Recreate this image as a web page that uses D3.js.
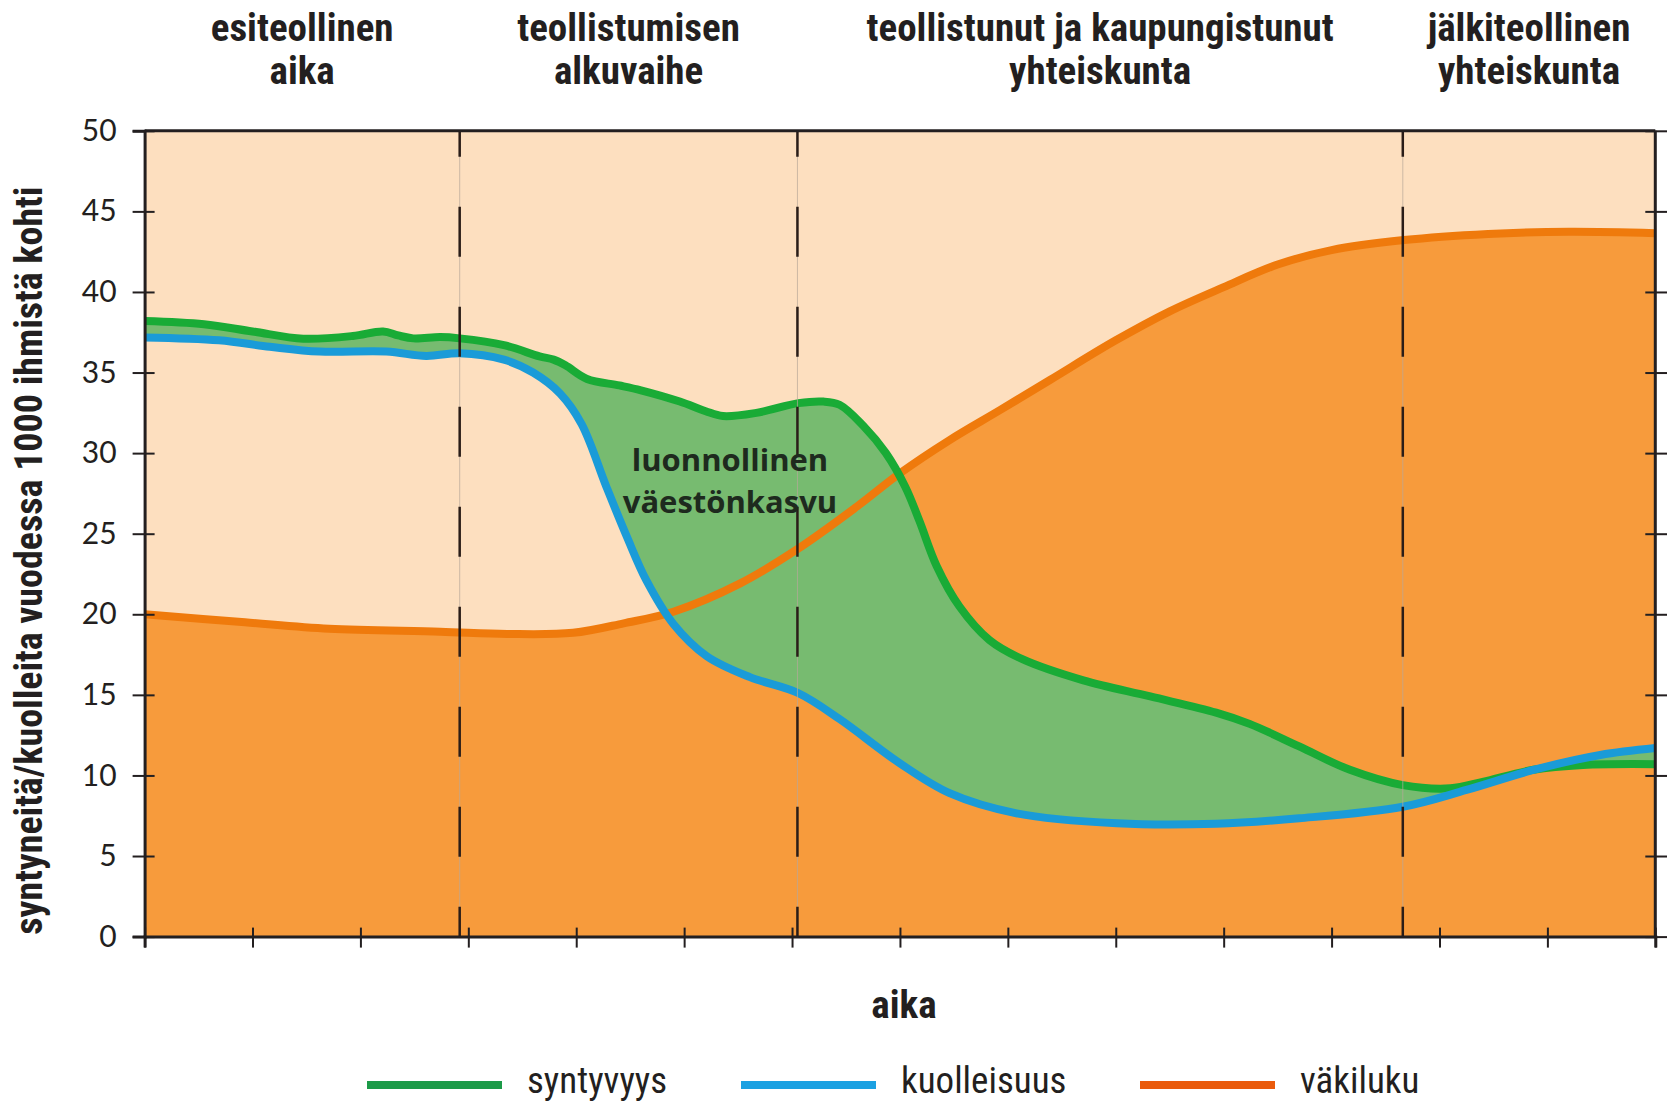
<!DOCTYPE html>
<html>
<head>
<meta charset="utf-8">
<script src="https://cdn.jsdelivr.net/npm/d3@7"></script>
<style>
  body { margin: 0; background: #fff; }
  svg { display: block; }
</style>
</head>
<body>
<div id="chart"></div>
<script>
// values, x = time steps 0..14, y = per 1000 people
const births = [[0,38.2],[0.55,38.0],[1.0,37.55],[1.47,37.1],[1.93,37.27],[2.21,37.55],[2.35,37.3],[2.49,37.12],[2.74,37.2],[2.92,37.12],
  [3.33,36.7],[3.66,36.0],[3.79,35.8],[3.9,35.45],[4.1,34.6],[4.4,34.2],[4.6,33.9],[4.96,33.2],[5.2,32.6],[5.36,32.3],[5.67,32.5],
  [6.06,33.1],[6.29,33.2],[6.44,33.0],[6.66,31.7],[6.87,30.0],[7.05,27.9],[7.18,25.8],[7.34,23.0],[7.55,20.5],[7.83,18.4],[8.14,17.2],
  [8.7,15.9],[9.32,14.9],[9.93,13.9],[10.24,13.2],[10.7,11.8],[11.17,10.35],[11.66,9.4],[12.1,9.2],[12.4,9.6],[12.87,10.35],[13.33,10.65],[14,10.7]];

const deaths = [[0,37.18],[0.69,37.0],[1.16,36.6],[1.62,36.3],[2.24,36.3],[2.61,36.03],[2.92,36.2],[3.33,35.8],[3.6,35.0],[3.85,33.7],
  [4.05,31.8],[4.28,27.9],[4.47,24.8],[4.65,22.1],[4.9,19.4],[5.21,17.4],[5.61,16.1],[6.06,15.1],[6.44,13.5],[7.0,10.75],[7.46,8.9],
  [8.08,7.65],[9.01,7.03],[9.93,7.0],[10.7,7.34],[11.66,8.06],[12.25,9.1],[12.87,10.34],[13.49,11.27],[14,11.7]];

const population = [[0,20.0],[0.93,19.5],[1.71,19.1],[2.74,18.92],[3.36,18.78],[3.97,18.85],[4.44,19.44],[4.9,20.16],[5.52,21.92],
  [6.06,24.09],[6.6,26.68],[7.0,28.75],[7.46,30.81],[7.93,32.68],[8.39,34.54],[9.0,37.0],[9.5,38.8],[10.0,40.3],[10.5,41.7],
  [11.0,42.6],[11.67,43.22],[12.45,43.6],[13.2,43.74],[14,43.65]];

const yTicks = [0,5,10,15,20,25,30,35,40,45,50];
const xTicks = d3.range(0, 15);
const phaseBounds = [2.92, 6.05, 11.66];
const phaseLabels = [["esiteollinen","aika"],["teollistumisen","alkuvaihe"],["teollistunut ja kaupungistunut","yhteiskunta"],["jälkiteollinen","yhteiskunta"]];
const legendItems = [["syntyvyys","#1c9a48"],["kuolleisuus","#1ba1e2"],["väkiluku","#ea5b0c"]];

const W = 1667, H = 1105;
const pLeft = 144.6, pRight = 1655.3, pTop = 130.8, pBottom = 936.6;

const svg = d3.select("#chart").append("svg").attr("width", W).attr("height", H);

const x = d3.scaleLinear().domain([0, 14]).range([pLeft, pRight]);
const y = d3.scaleLinear().domain([0, 50]).range([pBottom, pTop]);

const narrow = "'Liberation Sans Narrow', 'Arial Narrow', 'Roboto Condensed', sans-serif";

// background
svg.append("rect").attr("x", pLeft).attr("y", pTop).attr("width", pRight - pLeft).attr("height", pBottom - pTop)
  .attr("fill", "#fddfbf");

const curve = d3.curveCatmullRom.alpha(0.5);
const line = d3.line().x(d => x(d[0])).y(d => y(d[1])).curve(curve);

// population area
svg.append("path")
  .datum(population)
  .attr("d", d3.area().x(d => x(d[0])).y0(y(0)).y1(d => y(d[1])).curve(curve))
  .attr("fill", "#f79b3c");

// fill between births and deaths
const upper = line(births);
const lower = line(deaths.slice().reverse()).replace(/^M/, "L");
svg.append("path").attr("d", upper + lower + "Z").attr("fill", "#77bb70");

svg.append("path").datum(population).attr("d", line)
  .attr("fill", "none").attr("stroke", "#ef7a0c").attr("stroke-width", 8);
svg.append("path").datum(births).attr("d", line)
  .attr("fill", "none").attr("stroke", "#19ab36").attr("stroke-width", 8);
svg.append("path").datum(deaths).attr("d", line)
  .attr("fill", "none").attr("stroke", "#1a9bd8").attr("stroke-width", 8);

// phase separators
phaseBounds.forEach(b => {
  svg.append("line").attr("x1", x(b)).attr("x2", x(b)).attr("y1", pTop).attr("y2", pBottom)
    .attr("stroke", "#b8a89a").attr("stroke-width", 1).attr("opacity", 0.7);
  svg.append("line").attr("x1", x(b)).attr("x2", x(b)).attr("y1", pTop).attr("y2", pBottom)
    .attr("stroke", "#2a1d18").attr("stroke-width", 2.5)
    .attr("stroke-dasharray", "50,50").attr("stroke-dashoffset", 24);
});

// frame
svg.append("line").attr("x1", pLeft).attr("x2", pRight).attr("y1", pTop).attr("y2", pTop)
  .attr("stroke", "#231f20").attr("stroke-width", 3);
svg.append("line").attr("x1", pRight).attr("x2", pRight).attr("y1", pTop).attr("y2", pBottom)
  .attr("stroke", "#231f20").attr("stroke-width", 3);

// left axis
const yAxis = svg.append("g").attr("transform", `translate(${pLeft},0)`)
  .call(d3.axisLeft(y).tickValues(yTicks).tickSize(12).tickPadding(16));
yAxis.select(".domain").attr("stroke", "#231f20").attr("stroke-width", 3);
yAxis.selectAll(".tick line").attr("stroke", "#231f20").attr("stroke-width", 2).attr("x2", 10).attr("x1", -12);
yAxis.selectAll(".tick text").attr("font-family", "Lato, sans-serif").attr("font-size", 30).attr("fill", "#231f20");

// right axis ticks
const yAxisR = svg.append("g").attr("transform", `translate(${pRight},0)`)
  .call(d3.axisRight(y).tickValues(yTicks).tickSize(10).tickFormat(""));
yAxisR.select(".domain").remove();
yAxisR.selectAll(".tick line").attr("stroke", "#231f20").attr("stroke-width", 2).attr("x1", -10).attr("x2", 12);

// bottom axis
const xAxis = svg.append("g").attr("transform", `translate(0,${pBottom})`)
  .call(d3.axisBottom(x).tickValues(xTicks).tickSize(11).tickFormat(""));
xAxis.select(".domain").attr("stroke", "#231f20").attr("stroke-width", 3);
xAxis.selectAll(".tick line").attr("stroke", "#231f20").attr("stroke-width", 2).attr("y1", -9);

// phase headers
const bounds = [0].concat(phaseBounds, [14]);
phaseLabels.forEach((lab, i) => {
  const cx = x((bounds[i] + bounds[i + 1]) / 2);
  lab.forEach((t, j) => {
    svg.append("text").attr("x", cx).attr("y", 41 + j * 43)
      .attr("text-anchor", "middle").attr("font-family", narrow).attr("font-weight", "bold")
      .attr("font-size", 39).attr("fill", "#231f20").text(t);
  });
});

// annotation
svg.append("text").attr("x", 730).attr("y", 471).attr("text-anchor", "middle")
  .attr("font-family", "'Open Sans', sans-serif").attr("font-weight", "bold").attr("font-size", 31)
  .attr("fill", "#1e2a1e").text("luonnollinen");
svg.append("text").attr("x", 730).attr("y", 513).attr("text-anchor", "middle")
  .attr("font-family", "'Open Sans', sans-serif").attr("font-weight", "bold").attr("font-size", 31)
  .attr("fill", "#1e2a1e").text("väestönkasvu");

// axis titles
svg.append("text").attr("x", (pLeft + pRight) / 2 + 4).attr("y", 1018).attr("text-anchor", "middle")
  .attr("font-family", narrow).attr("font-weight", "bold").attr("font-size", 39).attr("fill", "#231f20").text("aika");
svg.append("text").attr("transform", `translate(42,${(pTop + pBottom) / 2 + 27}) rotate(-90)`).attr("text-anchor", "middle")
  .attr("font-family", narrow).attr("font-weight", "bold").attr("font-size", 38).attr("fill", "#231f20")
  .text("syntyneitä/kuolleita vuodessa 1000 ihmistä kohti");

// legend
const legendX = [367, 741, 1140];
legendItems.forEach((it, i) => {
  svg.append("line").attr("x1", legendX[i]).attr("x2", legendX[i] + 135).attr("y1", 1085).attr("y2", 1085)
    .attr("stroke", it[1]).attr("stroke-width", 8);
  svg.append("text").attr("x", legendX[i] + 160).attr("y", 1093)
    .attr("font-family", narrow).attr("font-size", 37).attr("fill", "#231f20").text(it[0]);
});
</script>
</body>
</html>
